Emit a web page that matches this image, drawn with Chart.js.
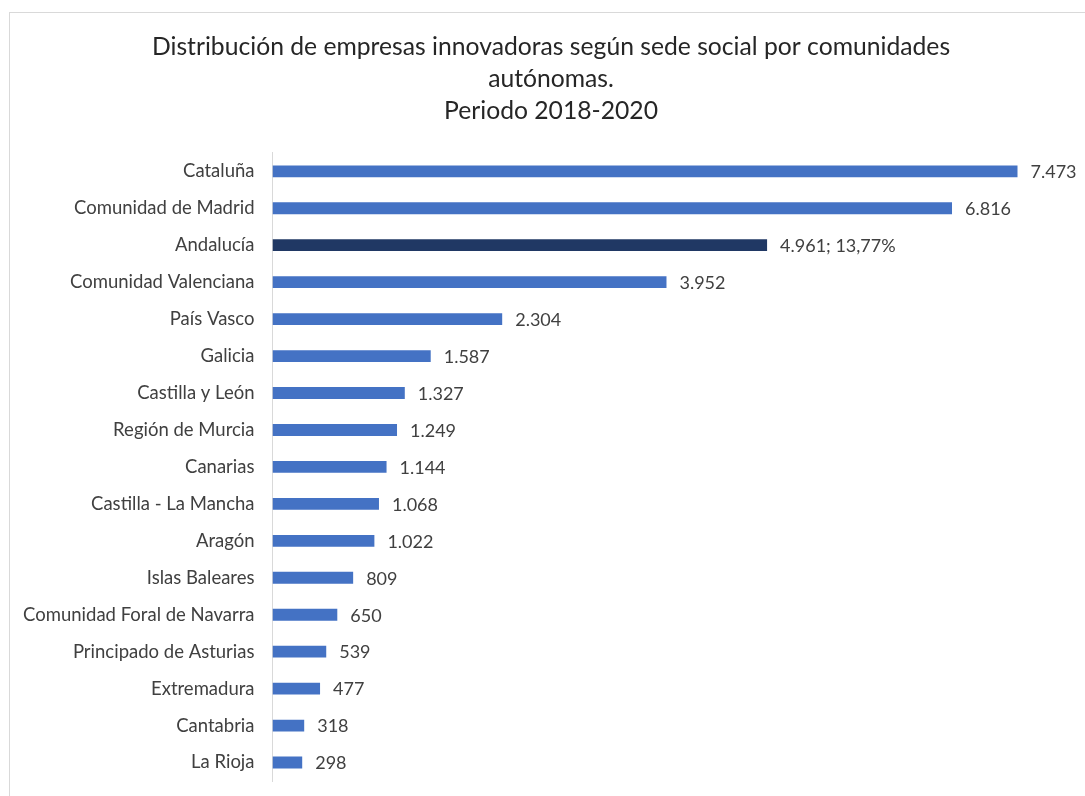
<!DOCTYPE html>
<html>
<head>
<meta charset="utf-8">
<script src="https://cdn.jsdelivr.net/npm/chart.js@4/dist/chart.umd.min.js"></script>
<style>
  html, body { margin: 0; padding: 0; background: #ffffff; }
  #wrap { position: relative; width: 1085px; height: 796px; }
  #frame { position: absolute; left: 9px; top: 12px; width: 1100px; height: 800px;
           border-left: 1px solid #d9d9d9; border-top: 1px solid #d9d9d9; pointer-events: none; }
  canvas { position: absolute; left: 0; top: 0; }
</style>
</head>
<body>
<div id="wrap">
  <canvas id="c" width="1085" height="796"></canvas>
  <div id="frame"></div>
</div>
<script>
const categories = [
  "Cataluña", "Comunidad de Madrid", "Andalucía", "Comunidad Valenciana", "País Vasco",
  "Galicia", "Castilla y León", "Región de Murcia", "Canarias", "Castilla - La Mancha",
  "Aragón", "Islas Baleares", "Comunidad Foral de Navarra", "Principado de Asturias",
  "Extremadura", "Cantabria", "La Rioja"
];
const values = [7473, 6816, 4961, 3952, 2304, 1587, 1327, 1249, 1144, 1068, 1022, 809, 650, 539, 477, 318, 298];
const highlightIndex = 2;
const highlightPercent = "13,77%";
const titleLines = [
  "Distribución de empresas innovadoras según sede social por comunidades",
  "autónomas.",
  "Periodo 2018-2020"
];

const baseColor = "#4472C4";
const highlightColor = "#203864";
const fontFamily = "Lato, 'Open Sans', sans-serif";

function fmt(v) {
  return v.toString().replace(/\B(?=(\d{3})+(?!\d))/g, ".");
}

const labelPlugin = {
  id: "valueLabels",
  afterDatasetsDraw(chart) {
    const ctx = chart.ctx;
    const meta = chart.getDatasetMeta(0);
    ctx.save();
    ctx.font = "18px " + fontFamily;
    ctx.fillStyle = "#404040";
    ctx.textAlign = "left";
    ctx.textBaseline = "middle";
    meta.data.forEach((bar, i) => {
      let txt = fmt(values[i]);
      if (i === highlightIndex) txt += "; " + highlightPercent;
      ctx.fillText(txt, bar.x + 13, bar.y + 1);
    });
    ctx.restore();
  }
};

new Chart(document.getElementById("c"), {
  type: "bar",
  data: {
    labels: categories,
    datasets: [{
      data: values,
      backgroundColor: values.map((v, i) => i === highlightIndex ? highlightColor : baseColor),
      categoryPercentage: 1.0,
      barPercentage: 0.32
    }]
  },
  options: {
    indexAxis: "y",
    responsive: false,
    animation: false,
    layout: { padding: { left: 17, right: 0, top: 0, bottom: 15 } },
    plugins: {
      legend: { display: false },
      tooltip: { enabled: false },
      title: {
        display: true,
        text: titleLines,
        color: "#262626",
        font: { family: fontFamily, size: 24.7, weight: "normal", lineHeight: 1.3 },
        padding: { top: 31, bottom: 25.5 }
      }
    },
    scales: {
      x: {
        display: false,
        min: 0,
        max: 8150
      },
      y: {
        afterFit(scale) { scale.width = 255.5; },
        grid: { display: true, drawOnChartArea: false, drawTicks: true, tickLength: 18, color: "rgba(0,0,0,0)" },
        border: { display: true, color: "#d9d9d9", width: 1 },
        ticks: {
          padding: 0,
          color: "#404040",
          font: { family: fontFamily, size: 18.5 }
        }
      }
    }
  },
  plugins: [labelPlugin]
});
</script>
</body>
</html>
